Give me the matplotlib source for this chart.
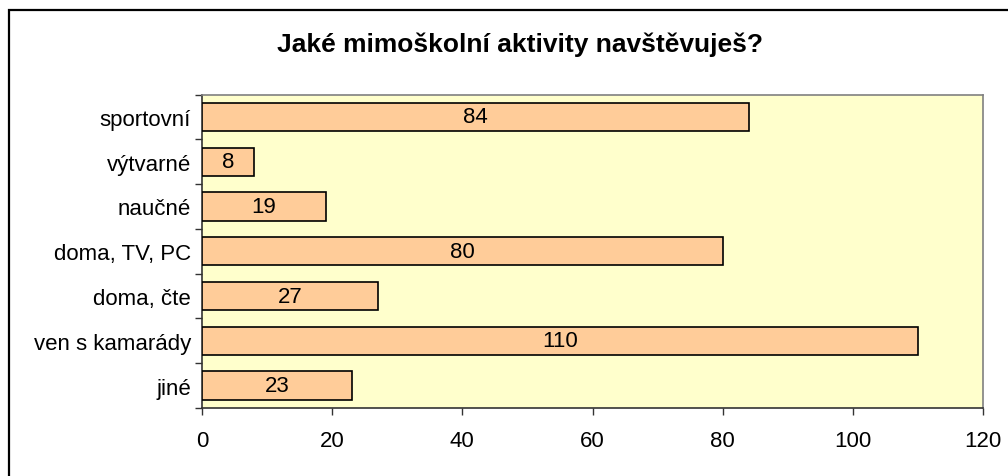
import matplotlib
matplotlib.use("Agg")
import matplotlib.pyplot as plt
from matplotlib.patches import Rectangle
import numpy as np

# Survey answers, top to bottom as shown in the chart
categories = ["sportovní", "výtvarné", "naučné", "doma, TV, PC", "doma, čte", "ven s kamarády", "jiné"]
counts = [84, 8, 19, 80, 27, 110, 23]
x_ticks = [0, 20, 40, 60, 80, 100, 120]

title = "Jaké mimoškolní aktivity navštěvuješ?"

plt.rcParams['font.family'] = ['Liberation Sans', 'DejaVu Sans']

W, H = 1008, 477
fig = plt.figure(figsize=(W / 100, H / 100), dpi=100)
fig.patch.set_facecolor("white")

# outer chart frame (cut off on the right and bottom in the original)
fig.patches.append(Rectangle((9 / W, -0.1), 1.2, 1 - 11 / H + 0.1, transform=fig.transFigure,
                             fill=False, edgecolor="black", linewidth=1.6, zorder=0))

ax = fig.add_axes([202 / W, 1 - 409 / H, (983 - 202) / W, (409 - 95.5) / H])
ax.set_facecolor("#FFFFCC")

y = np.arange(len(categories))
bars = ax.barh(y, counts, height=0.63, color="#FFCC99", edgecolor="black", linewidth=1.2, zorder=3)

for rect, val in zip(bars, counts):
    ax.text(rect.get_width() / 2, rect.get_y() + rect.get_height() / 2, str(val),
            ha="center", va="center", fontsize=16, color="black", zorder=4)

ax.set_xlim(0, 120)
ax.set_ylim(len(categories) - 0.5, -0.5)
ax.set_xticks(x_ticks)
ax.set_xticklabels([str(t) for t in x_ticks], fontsize=16)
ax.set_yticks(y)
ax.set_yticklabels(categories, fontsize=16)
ax.tick_params(axis="y", length=0, pad=8)
ax.set_yticks(np.arange(len(categories) + 1) - 0.5, minor=True)
ax.tick_params(axis="y", which="minor", length=5, width=1, color="#333333")
ax.tick_params(axis="x", length=5, width=1, color="#333333", pad=11)

for side in ["top", "right"]:
    ax.spines[side].set_color("#808080")
    ax.spines[side].set_linewidth(1.2)
for side in ["left", "bottom"]:
    ax.spines[side].set_color("#333333")
    ax.spines[side].set_linewidth(1.2)

fig.text(520 / W, 1 - 45 / H, title, ha="center", va="center", fontsize=19, fontweight="bold")

plt.savefig("out.png", dpi=100)
